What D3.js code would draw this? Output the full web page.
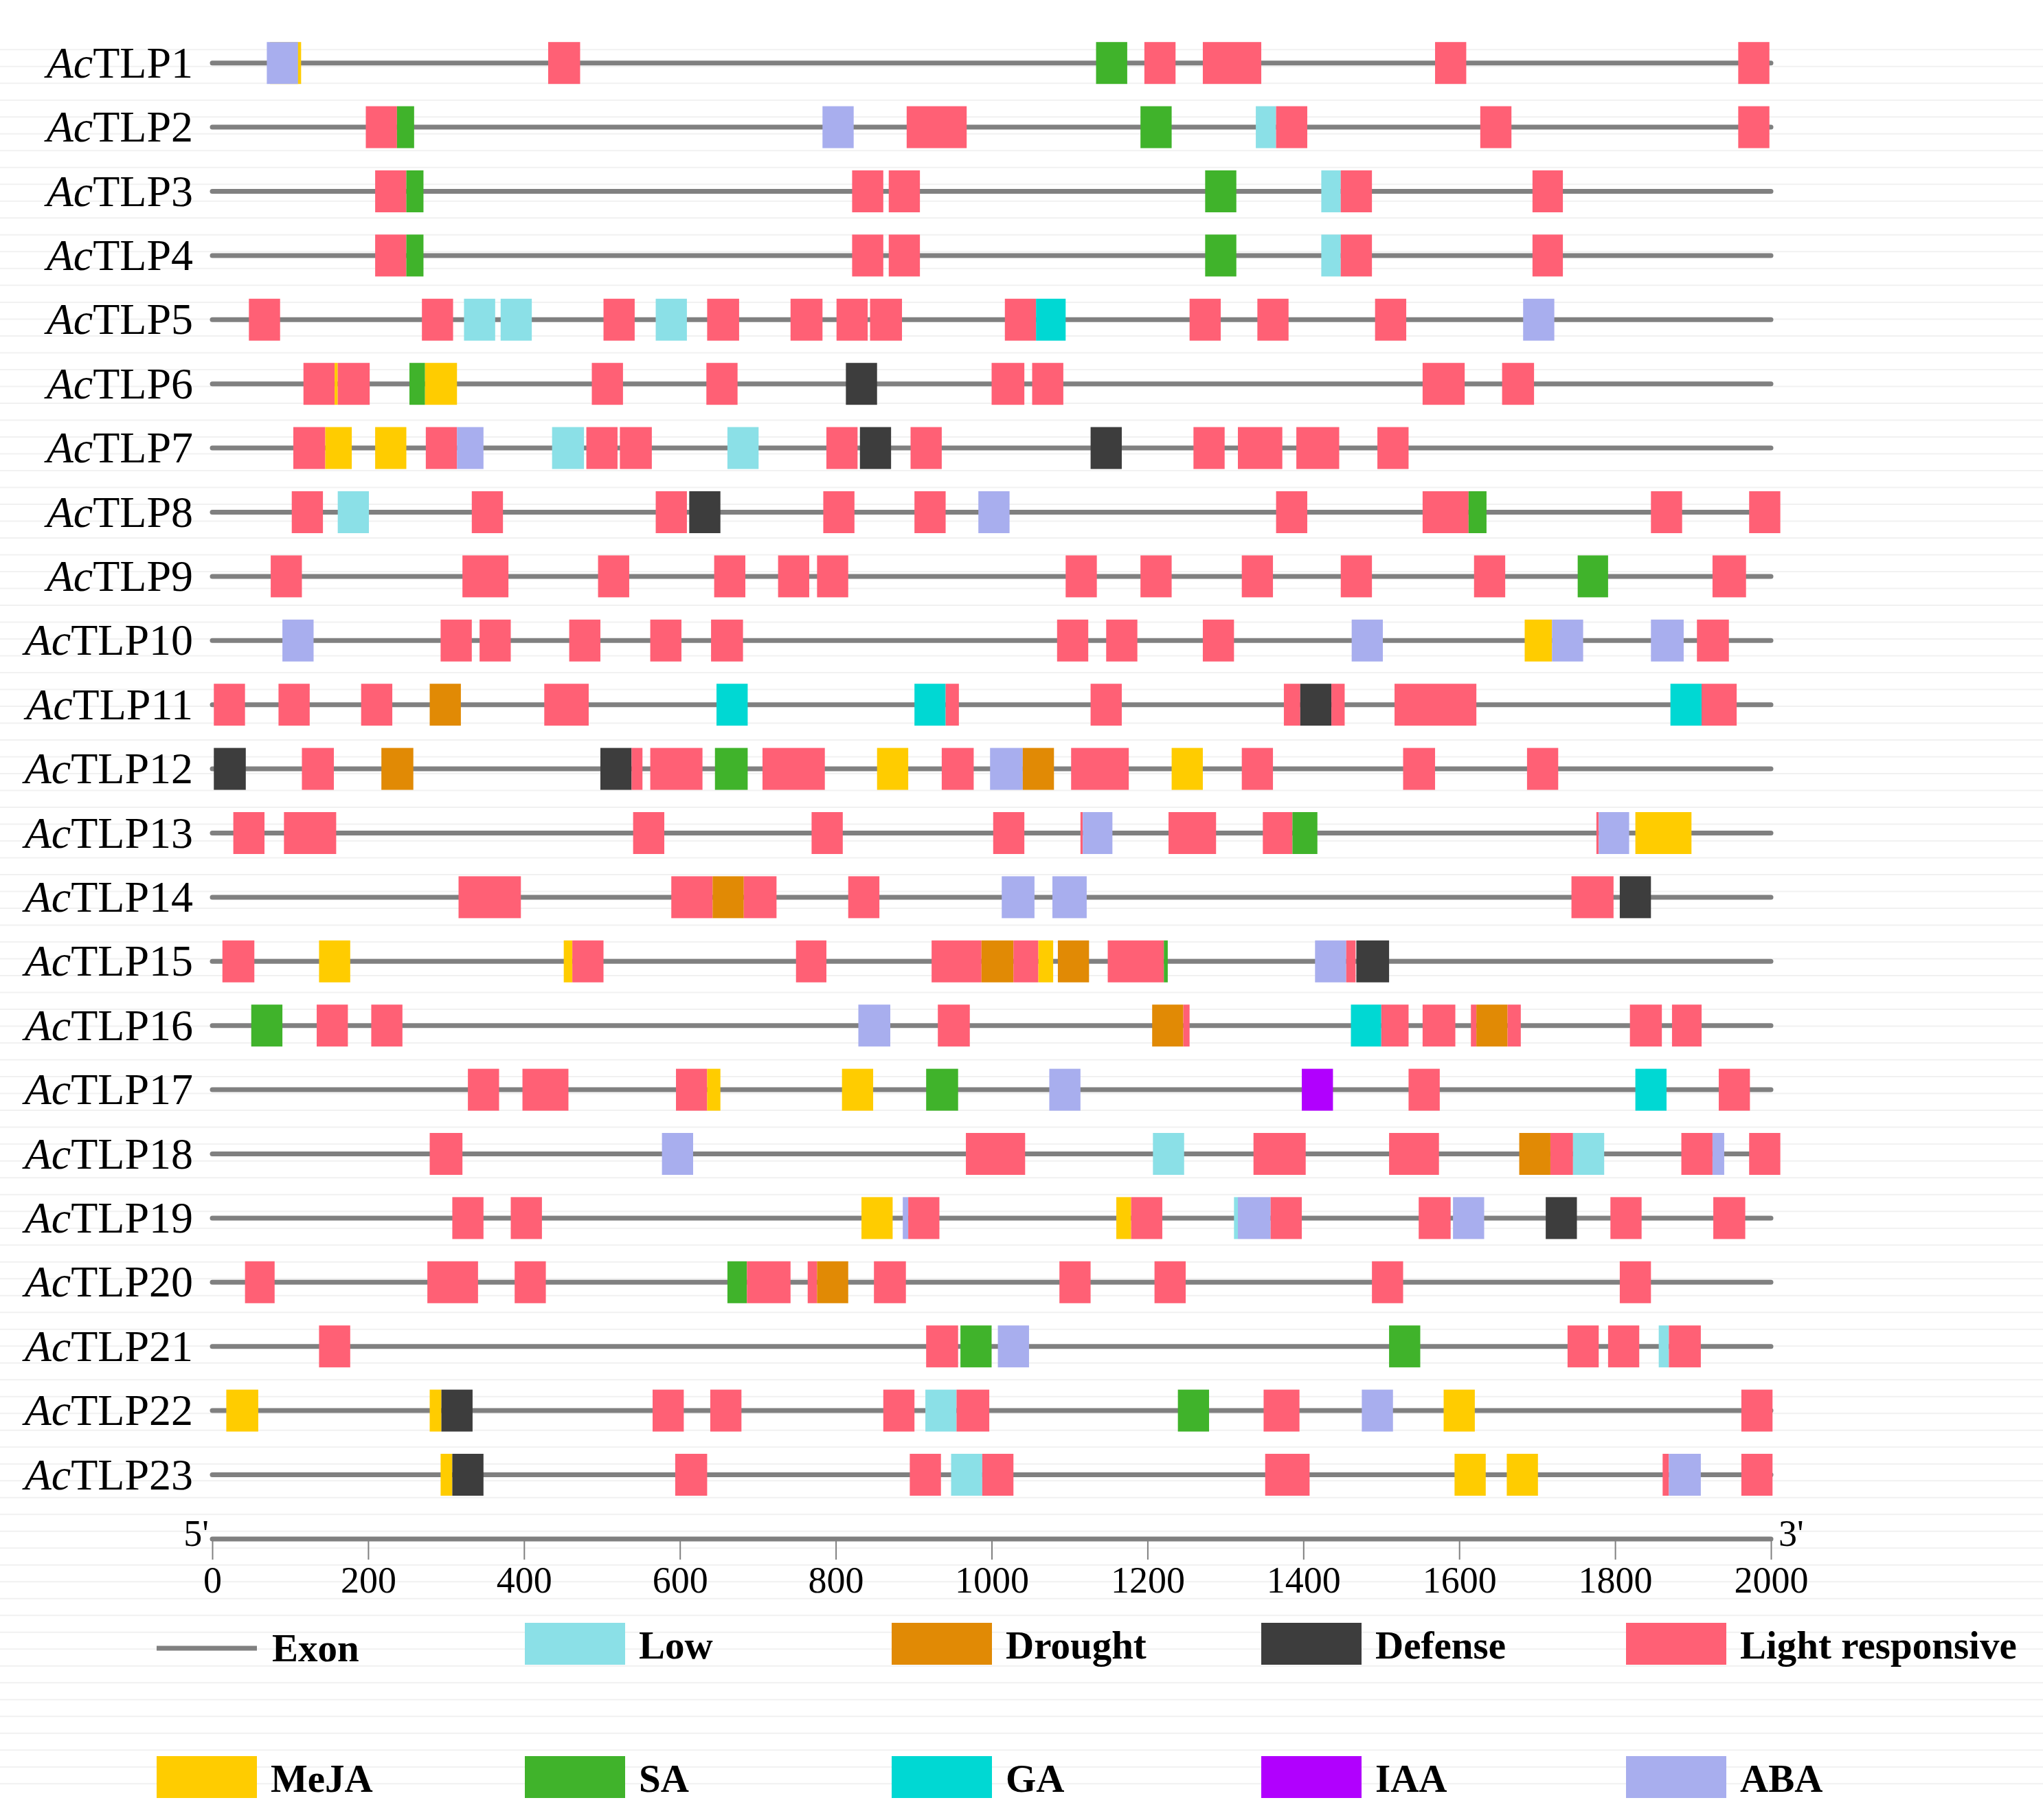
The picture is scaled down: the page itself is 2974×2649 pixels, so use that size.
<!DOCTYPE html>
<html>
<head>
<meta charset="utf-8">
<title>AcTLP promoter cis-elements</title>
<script src="https://d3js.org/d3.v7.min.js"></script>
<style>
    html, body { margin: 0; padding: 0; background: #fff; }
    svg text { font-family: "Liberation Serif", "Times New Roman", serif; fill: #000; }
</style>
</head>
<body>
<div id="graph"></div>
<script>
// ---- data ----
var genes = ["AcTLP1","AcTLP2","AcTLP3","AcTLP4","AcTLP5","AcTLP6","AcTLP7","AcTLP8",
    "AcTLP9","AcTLP10","AcTLP11","AcTLP12","AcTLP13","AcTLP14","AcTLP15","AcTLP16",
    "AcTLP17","AcTLP18","AcTLP19","AcTLP20","AcTLP21","AcTLP22","AcTLP23"];

// legend order (row 1 then row 2)
var elementTypes = ["Low","Drought","Defense","Light responsive","MeJA","SA","GA","IAA","ABA"];
var elementCodes = ["LO","DR","DF","LT","ME","SA","GA","IA","AB"];
var elementColors = ["#8be0e7","#e18a05","#3d3d3d","#ff6075","#ffcc00","#40b32b","#00d8d3","#b100fe","#a8aeee"];

var axisTicks = [0,200,400,600,800,1000,1200,1400,1600,1800,2000];
var promoterLength = 2000;

// motifs per gene: [start, end, element code] (bp from 5')
var motifs = [
 [[74,114,"ME"],[70,110,"AB"],[431,472,"LT"],[1134,1174,"SA"],[1196,1236,"LT"],[1271,1346,"LT"],[1569,1609,"LT"],[1958,1998,"LT"]],
 [[197,237,"LT"],[237,259,"SA"],[783,823,"AB"],[891,968,"LT"],[1191,1231,"SA"],[1339,1365,"LO"],[1365,1405,"LT"],[1627,1667,"LT"],[1958,1998,"LT"]],
 [[209,249,"LT"],[249,271,"SA"],[821,861,"LT"],[868,908,"LT"],[1274,1314,"SA"],[1423,1448,"LO"],[1448,1488,"LT"],[1694,1733,"LT"]],
 [[209,249,"LT"],[249,271,"SA"],[821,861,"LT"],[868,908,"LT"],[1274,1314,"SA"],[1423,1448,"LO"],[1448,1488,"LT"],[1694,1733,"LT"]],
 [[47,87,"LT"],[269,309,"LT"],[323,363,"LO"],[370,410,"LO"],[502,542,"LT"],[569,609,"LO"],[635,676,"LT"],[742,783,"LT"],[801,841,"LT"],[844,885,"LT"],[1017,1057,"LT"],[1057,1095,"GA"],[1254,1294,"LT"],[1341,1381,"LT"],[1492,1532,"LT"],[1682,1722,"AB"]],
 [[117,157,"LT"],[157,161,"ME"],[161,202,"LT"],[253,273,"SA"],[273,314,"ME"],[487,527,"LT"],[634,674,"LT"],[813,853,"DF"],[1000,1042,"LT"],[1052,1092,"LT"],[1553,1607,"LT"],[1655,1696,"LT"]],
 [[104,145,"LT"],[145,179,"ME"],[209,249,"ME"],[274,314,"LT"],[314,348,"AB"],[436,477,"LO"],[480,520,"LT"],[523,564,"LT"],[661,701,"LO"],[788,828,"LT"],[831,871,"DF"],[896,936,"LT"],[1127,1167,"DF"],[1259,1299,"LT"],[1316,1373,"LT"],[1391,1446,"LT"],[1495,1535,"LT"]],
 [[102,142,"LT"],[161,201,"LO"],[333,373,"LT"],[569,609,"LT"],[612,652,"DF"],[784,824,"LT"],[901,941,"LT"],[983,1023,"AB"],[1365,1405,"LT"],[1553,1612,"LT"],[1612,1635,"SA"],[1846,1886,"LT"],[1972,2012,"LT"]],
 [[75,115,"LT"],[321,380,"LT"],[495,535,"LT"],[644,684,"LT"],[726,766,"LT"],[776,816,"LT"],[1095,1135,"LT"],[1191,1231,"LT"],[1321,1361,"LT"],[1448,1488,"LT"],[1619,1659,"LT"],[1752,1791,"SA"],[1925,1968,"LT"]],
 [[90,130,"AB"],[293,333,"LT"],[343,383,"LT"],[458,498,"LT"],[562,602,"LT"],[640,681,"LT"],[1084,1124,"LT"],[1147,1187,"LT"],[1271,1311,"LT"],[1462,1502,"AB"],[1684,1719,"ME"],[1719,1759,"AB"],[1846,1888,"AB"],[1905,1946,"LT"]],
 [[2,42,"LT"],[85,125,"LT"],[191,231,"LT"],[279,319,"DR"],[426,483,"LT"],[647,687,"GA"],[901,941,"GA"],[941,958,"LT"],[1127,1167,"LT"],[1375,1396,"LT"],[1396,1436,"DF"],[1436,1453,"LT"],[1517,1622,"LT"],[1871,1911,"GA"],[1911,1956,"LT"]],
 [[2,43,"DF"],[115,156,"LT"],[217,258,"DR"],[498,538,"DF"],[538,552,"LT"],[562,629,"LT"],[645,687,"SA"],[706,786,"LT"],[853,893,"ME"],[936,977,"LT"],[998,1040,"AB"],[1040,1080,"DR"],[1102,1176,"LT"],[1231,1271,"ME"],[1321,1361,"LT"],[1528,1569,"LT"],[1687,1727,"LT"]],
 [[27,67,"LT"],[92,159,"LT"],[540,580,"LT"],[769,809,"LT"],[1002,1042,"LT"],[1114,1117,"LT"],[1117,1155,"AB"],[1227,1288,"LT"],[1348,1386,"LT"],[1386,1418,"SA"],[1776,1779,"LT"],[1779,1818,"AB"],[1826,1898,"ME"]],
 [[316,396,"LT"],[589,642,"LT"],[642,682,"DR"],[682,724,"LT"],[816,856,"LT"],[1013,1055,"AB"],[1078,1122,"AB"],[1744,1798,"LT"],[1806,1846,"DF"]],
 [[13,54,"LT"],[137,177,"ME"],[451,462,"ME"],[462,502,"LT"],[749,788,"LT"],[923,987,"LT"],[987,1028,"DR"],[1028,1060,"LT"],[1060,1079,"ME"],[1085,1125,"DR"],[1149,1221,"LT"],[1221,1226,"SA"],[1415,1455,"AB"],[1455,1467,"LT"],[1468,1510,"DF"]],
 [[50,90,"SA"],[134,174,"LT"],[204,244,"LT"],[829,870,"AB"],[931,972,"LT"],[1206,1246,"DR"],[1246,1254,"LT"],[1461,1500,"GA"],[1500,1535,"LT"],[1553,1595,"LT"],[1615,1622,"LT"],[1622,1662,"DR"],[1662,1679,"LT"],[1819,1860,"LT"],[1873,1911,"LT"]],
 [[328,368,"LT"],[398,457,"LT"],[595,635,"LT"],[635,652,"ME"],[808,848,"ME"],[916,957,"SA"],[1074,1114,"AB"],[1398,1438,"IA"],[1535,1575,"LT"],[1826,1866,"GA"],[1933,1973,"LT"]],
 [[279,321,"LT"],[577,617,"AB"],[967,1043,"LT"],[1207,1247,"LO"],[1336,1403,"LT"],[1510,1574,"LT"],[1677,1717,"DR"],[1717,1746,"LT"],[1746,1786,"LO"],[1885,1925,"LT"],[1925,1940,"AB"],[1972,2012,"LT"]],
 [[308,348,"LT"],[383,423,"LT"],[833,873,"ME"],[886,893,"AB"],[893,933,"LT"],[1160,1179,"ME"],[1179,1219,"LT"],[1311,1316,"LO"],[1316,1358,"AB"],[1358,1398,"LT"],[1548,1589,"LT"],[1592,1632,"AB"],[1711,1751,"DF"],[1794,1834,"LT"],[1926,1967,"LT"]],
 [[42,80,"LT"],[276,341,"LT"],[388,428,"LT"],[661,686,"SA"],[686,742,"LT"],[764,776,"LT"],[776,816,"DR"],[849,890,"LT"],[1087,1127,"LT"],[1209,1249,"LT"],[1488,1528,"LT"],[1806,1846,"LT"]],
 [[137,177,"LT"],[916,957,"LT"],[960,1000,"SA"],[1008,1048,"AB"],[1510,1550,"SA"],[1739,1779,"LT"],[1791,1831,"LT"],[1856,1869,"LO"],[1869,1910,"LT"]],
 [[18,59,"ME"],[279,294,"ME"],[294,334,"DF"],[565,605,"LT"],[639,679,"LT"],[861,901,"LT"],[915,955,"LO"],[955,997,"LT"],[1239,1279,"SA"],[1349,1395,"LT"],[1475,1515,"AB"],[1580,1620,"ME"],[1962,2002,"LT"]],
 [[293,308,"ME"],[308,348,"DF"],[594,635,"LT"],[895,935,"LT"],[948,988,"LO"],[988,1028,"LT"],[1351,1408,"LT"],[1594,1634,"ME"],[1661,1701,"ME"],[1861,1869,"LT"],[1869,1910,"AB"],[1962,2002,"LT"]]
];

// ---- layout ----
var W = 2974, H = 2649;
var rowTop = 91.7, rowStep = 93.4, boxH = 61;

var svg = d3.select("#graph").append("svg")
    .attr("width", W).attr("height", H)
    .style("display", "block");

var x = d3.scaleLinear().domain([0, promoterLength]).range([309, 2578]);
var y = d3.scaleBand().domain(genes).range([rowTop - rowStep / 2, rowTop + rowStep * (genes.length - 0.5)]);
function rowY(g) { return y(g) + y.bandwidth() / 2; }
var color = d3.scaleOrdinal().domain(elementCodes).range(elementColors);

// faint background rules
svg.append("g").selectAll("line")
    .data(d3.range(0, 104))
    .enter().append("line")
    .attr("x1", 0).attr("x2", W)
    .attr("y1", function(d) { return 72.3 + d * 24.505; })
    .attr("y2", function(d) { return 72.3 + d * 24.505; })
    .attr("stroke", "#f1f1f1").attr("stroke-width", 2);

var rows = svg.append("g").selectAll("g.gene")
    .data(genes)
    .enter().append("g")
    .attr("class", "gene")
    .attr("transform", function(d) { return "translate(0," + rowY(d) + ")"; });

rows.append("line")
    .attr("x1", x(0)).attr("x2", x(promoterLength))
    .attr("stroke", "#808080").attr("stroke-width", 7).attr("stroke-linecap", "round");

rows.selectAll("rect")
    .data(function(d, i) { return motifs[i]; })
    .enter().append("rect")
    .attr("x", function(d) { return x(d[0]); })
    .attr("width", function(d) { return x(d[1]) - x(d[0]); })
    .attr("y", -boxH / 2)
    .attr("height", boxH)
    .attr("fill", function(d) { return color(d[2]); });

var lab = rows.append("text")
    .attr("x", 281).attr("y", 21)
    .attr("text-anchor", "end")
    .style("font-size", "64px");
lab.append("tspan").style("font-style", "italic").text("Ac");
lab.append("tspan").text(function(d) { return d.slice(2); });

// ---- scale bar ----
var axisY = 2240;
var axisG = svg.append("g").attr("transform", "translate(0," + axisY + ")");
axisG.call(d3.axisBottom(x).tickValues(axisTicks).tickSize(30).tickPadding(10).tickFormat(d3.format("d")));
axisG.select(".domain").remove();
axisG.selectAll(".tick line").attr("stroke", "#808080").attr("stroke-width", 2);
axisG.selectAll(".tick text")
    .style("font-size", "54px")
    .style("font-family", "'Liberation Serif', 'Times New Roman', serif")
    .attr("fill", "#000");
axisG.append("line")
    .attr("x1", x(0)).attr("x2", x(promoterLength))
    .attr("stroke", "#808080").attr("stroke-width", 7).attr("stroke-linecap", "round");
axisG.append("text").attr("x", 304).attr("y", 10).attr("text-anchor", "end")
    .style("font-size", "54px").text("5'");
axisG.append("text").attr("x", 2589).attr("y", 10).attr("text-anchor", "start")
    .style("font-size", "54px").text("3'");

// ---- legend ----
var legX = [228, 764, 1298, 1836, 2367];
var legend = svg.append("g");
var boxW = 146;

// exon item
legend.append("line")
    .attr("x1", 228).attr("x2", 374).attr("y1", 2399).attr("y2", 2399)
    .attr("stroke", "#808080").attr("stroke-width", 7);
legend.append("text").attr("x", 396).attr("y", 2418)
    .style("font-size", "57px").style("font-weight", "bold").text("Exon");

var items = elementTypes.map(function(t, i) {
    var slot = i + 1;
    return { name: t, code: elementCodes[i], col: slot % 5, row: Math.floor(slot / 5) };
});
var li = legend.selectAll("g.item").data(items).enter().append("g")
    .attr("class", "item")
    .attr("transform", function(d) { return "translate(" + legX[d.col] + "," + (d.row ? 2556 : 2362) + ")"; });
li.append("rect").attr("width", boxW).attr("height", boxH)
    .attr("fill", function(d) { return color(d.code); });
li.append("text").attr("x", boxW + 20).attr("y", 52)
    .style("font-size", "57px").style("font-weight", "bold")
    .text(function(d) { return d.name; });
</script>
</body>
</html>
